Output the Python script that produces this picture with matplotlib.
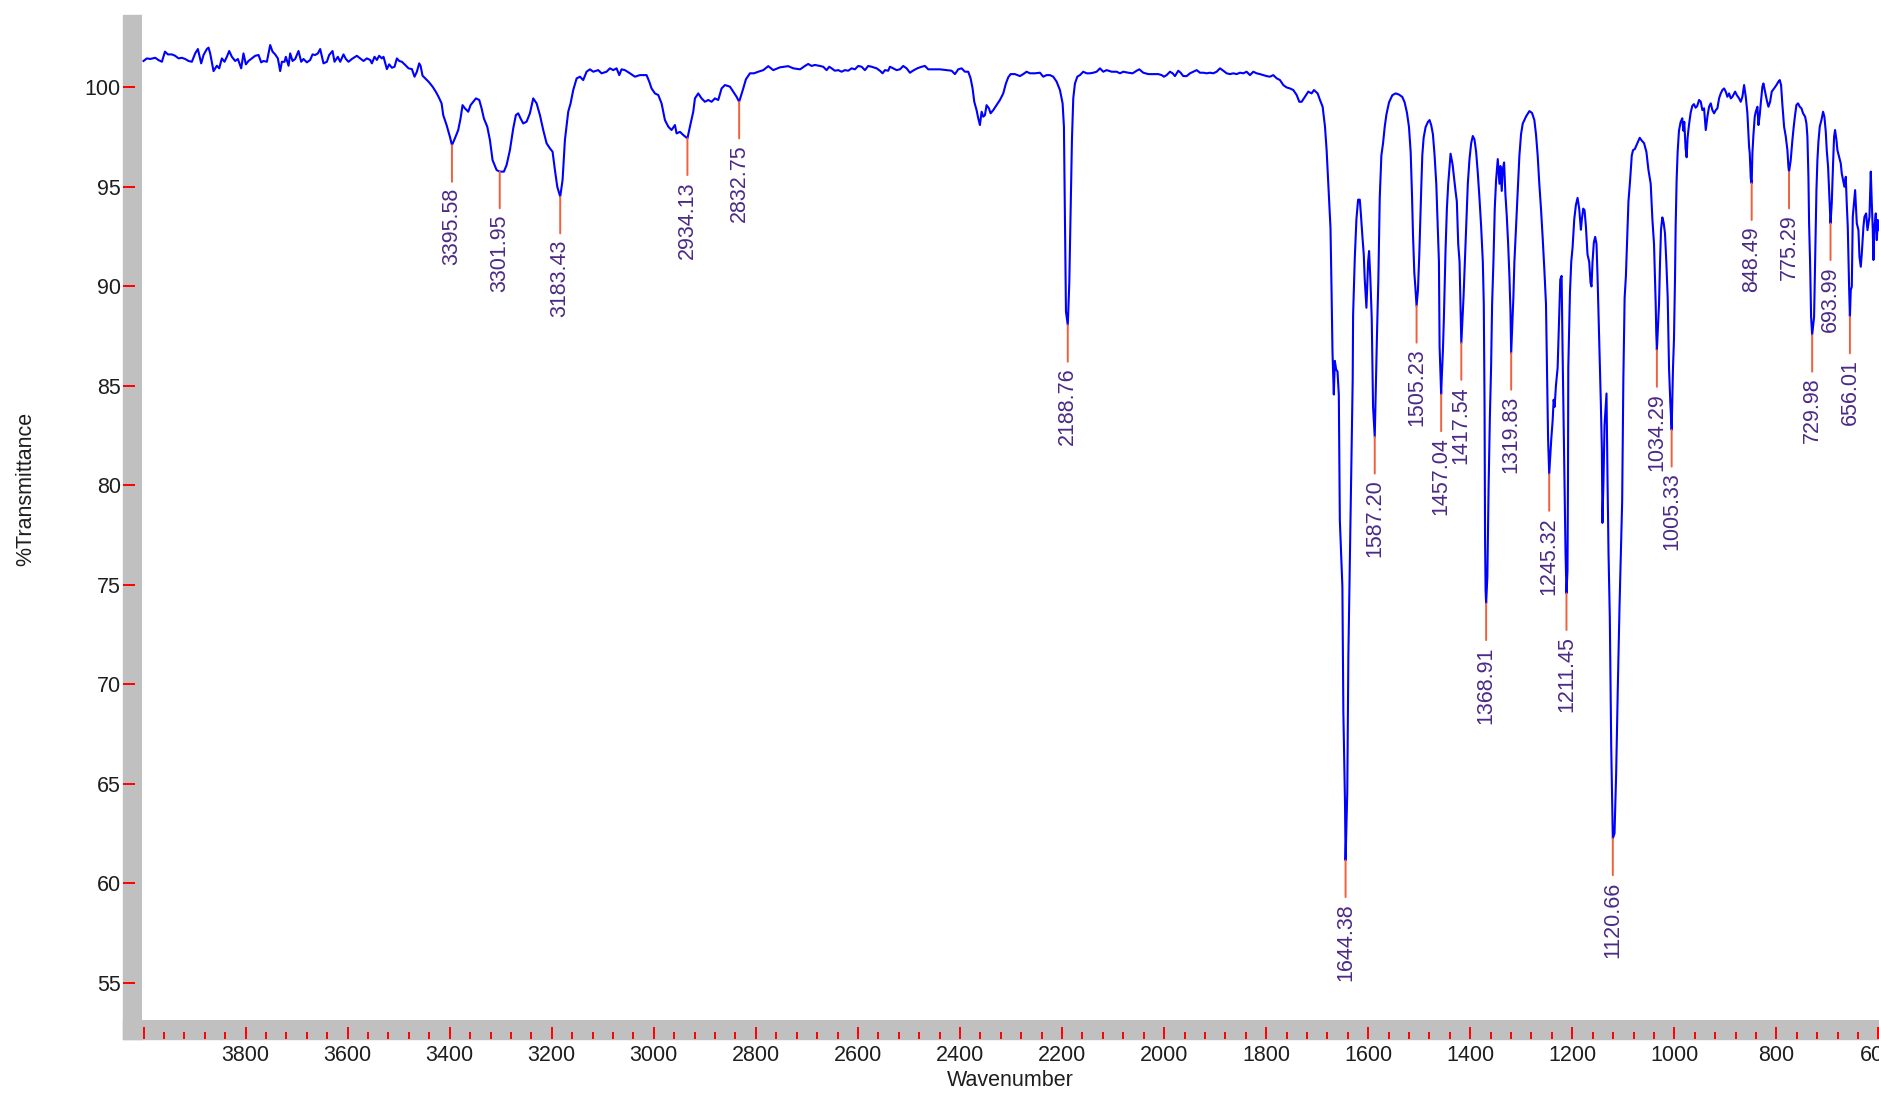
import matplotlib.pyplot as plt
from matplotlib.patches import Rectangle
from matplotlib.ticker import MultipleLocator, FuncFormatter

plt.rcParams['font.family'] = ['Liberation Sans', 'DejaVu Sans']

# IR spectrum (cm-1, %T)
wavenumber = [
    4000.0, 3993.5, 3987.0, 3977.0, 3971.0, 3964.0, 3958.0, 3952.3, 3944.5, 3938.0,
    3931.4, 3925.0, 3918.4, 3911.8, 3905.3, 3898.8, 3893.5, 3887.0, 3882.4, 3875.9,
    3872.6, 3869.4, 3862.8, 3856.3, 3851.7, 3846.5, 3841.3, 3836.7, 3832.1, 3826.9,
    3820.4, 3815.1, 3808.6, 3804.1, 3799.5, 3794.3, 3787.7, 3781.2, 3774.6, 3769.4,
    3764.8, 3758.3, 3751.8, 3747.2, 3742.0, 3736.8, 3732.2, 3728.9, 3723.7, 3721.1,
    3715.8, 3712.6, 3708.0, 3702.8, 3696.3, 3691.0, 3686.5, 3679.9, 3673.4, 3668.8,
    3663.6, 3658.4, 3653.8, 3647.3, 3640.7, 3636.2, 3629.6, 3625.7, 3619.2, 3614.6,
    3608.1, 3603.5, 3598.3, 3591.7, 3582.0, 3575.4, 3568.9, 3562.3, 3555.8, 3552.5,
    3547.3, 3542.7, 3538.2, 3532.9, 3529.7, 3523.1, 3518.6, 3513.3, 3508.1, 3503.5,
    3499.0, 3493.7, 3487.2, 3480.7, 3474.1, 3468.9, 3464.3, 3459.8, 3457.1, 3453.2,
    3448.0, 3441.5, 3433.6, 3427.1, 3421.9,
    3415.9, 3412.7, 3406.1, 3399.6, 3395.58, 3389.8, 3383.3, 3378.7, 3374.8, 3370.2,
    3363.7, 3359.1, 3353.9, 3348.6, 3342.1, 3337.5, 3333.0, 3326.4, 3321.2, 3316.0,
    3308.1, 3301.95, 3293.8, 3288.5, 3282.0, 3275.5, 3270.3, 3265.7, 3261.1, 3255.9,
    3249.3, 3242.8, 3236.3, 3229.7, 3223.2, 3216.7, 3210.1, 3203.6, 3198.4, 3193.8,
    3189.2, 3183.43, 3178.8, 3174.2, 3167.7, 3163.1, 3157.9, 3151.3, 3144.8, 3138.3,
    3131.8, 3125.2, 3118.7, 3108.9, 3102.4, 3092.6, 3086.0, 3079.5, 3073.0, 3067.7,
    3063.2, 3056.6, 3046.8, 3037.0, 3027.2, 3014.2, 3008.9, 3004.4, 2997.8, 2991.3,
    2984.8, 2978.2, 2971.7, 2965.2, 2958.6, 2955.4, 2948.8, 2942.3, 2934.13, 2929.2,
    2922.7, 2919.4, 2912.9, 2906.4, 2899.8, 2893.3, 2886.8, 2880.2, 2873.7, 2867.2,
    2860.6, 2850.8, 2844.3, 2837.8, 2832.75, 2824.7, 2819.5, 2811.6, 2803.8, 2795.3,
    2785.5, 2775.7, 2765.9, 2752.8, 2736.5, 2726.7, 2713.6,
    2710.4, 2703.9, 2697.4, 2690.8, 2684.3, 2674.5, 2668.0, 2661.4, 2656.2, 2651.6,
    2645.1, 2638.6, 2632.0, 2625.5, 2619.0, 2612.4, 2605.9, 2599.4, 2592.8, 2586.3,
    2579.8, 2573.2, 2563.4, 2556.9, 2551.7, 2547.1, 2540.6, 2537.3, 2530.8, 2524.2,
    2517.7, 2511.2, 2504.6, 2498.1, 2490.3, 2483.7, 2475.2, 2468.7, 2462.2, 2452.4,
    2439.3, 2426.2, 2416.4, 2409.9, 2403.4, 2396.8, 2390.3, 2383.8, 2379.2, 2375.3,
    2372.0, 2367.5, 2364.2, 2360.9, 2357.6, 2354.4, 2351.1, 2347.9, 2343.3, 2340.0,
    2334.8, 2328.3, 2321.7, 2315.2, 2310.0, 2305.4, 2300.8, 2292.3, 2282.5, 2276.0,
    2269.5, 2262.9, 2253.1, 2243.3, 2236.8, 2230.3,
    2223.7, 2217.2, 2210.6, 2204.1, 2198.9, 2196.3, 2194.3, 2192.3, 2188.76, 2185.8,
    2183.2, 2180.6, 2178.0, 2174.7, 2170.1, 2164.9, 2158.4, 2151.8, 2145.3, 2138.8,
    2132.2, 2125.7, 2119.2, 2112.6, 2102.8, 2093.0, 2086.5, 2080.0, 2070.2, 2061.7,
    2053.8, 2048.6, 2040.8, 2031.0, 2021.2, 2011.4, 2004.8, 2000.3, 1995.0, 1988.5,
    1983.3, 1978.7, 1972.2, 1967.6, 1962.4, 1955.8, 1949.3, 1942.8, 1936.2, 1929.7,
    1923.2, 1916.6, 1910.1, 1903.6, 1897.0, 1890.5, 1884.0, 1877.4, 1870.9, 1864.4,
    1857.9, 1851.3, 1844.8, 1838.3, 1831.7, 1825.2, 1818.7, 1812.1, 1805.6, 1799.1,
    1792.5, 1786.0, 1779.5, 1772.9, 1766.4, 1759.9, 1753.3, 1746.8, 1740.2, 1735.0,
    1730.4, 1723.9, 1717.4, 1710.9, 1706.3, 1699.1, 1694.5, 1689.3, 1684.7, 1681.5,
    1678.2,
    1673.9, 1671.9, 1670.0, 1667.4, 1665.4, 1662.8, 1660.2, 1657.6, 1655.6, 1650.6,
    1648.7, 1645.4, 1644.38, 1641.0, 1638.9, 1634.3, 1630.4, 1629.6, 1626.3, 1623.1,
    1619.8, 1616.5, 1614.6, 1611.3, 1608.7, 1606.8, 1604.8, 1603.5, 1600.2, 1598.3,
    1595.7, 1593.1, 1590.5, 1587.20, 1585.3, 1582.7, 1580.1, 1577.4, 1574.2, 1570.9,
    1567.7, 1564.4, 1559.2, 1552.7, 1546.2, 1539.6, 1533.1, 1528.6, 1524.0, 1520.1,
    1516.8, 1514.2, 1512.3, 1509.7, 1507.7, 1505.23, 1502.5, 1499.9, 1497.9, 1496.0,
    1494.0, 1491.4, 1487.5, 1482.9, 1479.7, 1476.4, 1473.2, 1469.9, 1466.6, 1463.4,
    1461.4, 1460.1, 1457.04, 1456.2, 1453.6, 1451.7, 1448.4, 1445.8, 1443.2, 1440.6,
    1438.6, 1436.7, 1434.7, 1432.8, 1428.9, 1426.3, 1423.6, 1421.0, 1419.1, 1417.54,
    1413.2, 1410.6, 1408.0, 1404.8, 1401.5, 1398.2, 1395.0, 1391.7, 1388.5, 1385.2,
    1382.0, 1378.7, 1375.4, 1373.5, 1372.0, 1371.0, 1370.0, 1368.91, 1366.5, 1364.0,
    1361.5, 1359.2, 1357.2, 1354.6, 1352.0, 1349.4, 1346.1, 1342.8, 1340.9, 1338.3,
    1336.3, 1333.7, 1331.1, 1328.5, 1325.9, 1323.3, 1321.2, 1319.83, 1315.5, 1313.5,
    1310.3, 1307.0, 1303.7, 1300.5, 1297.2, 1290.7, 1284.2, 1279.0, 1274.4, 1271.2,
    1267.9, 1264.7, 1261.4, 1258.2, 1254.9, 1251.6, 1249.7, 1247.5, 1246.5, 1245.32,
    1241.2, 1238.6, 1236.6, 1234.7, 1232.1, 1228.8, 1225.6, 1223.6, 1221.0, 1219.0,
    1215.5, 1213.3, 1211.45, 1209.5, 1208.5, 1207.9, 1204.7, 1202.1, 1199.5, 1196.2,
    1193.0, 1189.7, 1186.5, 1183.2, 1181.3, 1178.6, 1176.0, 1173.4, 1170.2, 1166.9,
    1164.3, 1162.4, 1160.4, 1157.8, 1155.2, 1152.6, 1150.6, 1147.4, 1144.1, 1142.1,
    1141.0, 1138.9, 1136.9, 1133.0, 1131.0, 1129.0, 1126.5, 1123.8, 1120.66, 1117.3,
    1114.1, 1110.8, 1107.5, 1102.3, 1100.0, 1097.5, 1095.0, 1092.5, 1090.0, 1087.0,
    1083.5, 1081.0, 1077.6, 1072.4, 1067.9, 1064.0, 1059.4, 1054.8, 1050.9, 1046.4,
    1043.1, 1039.9, 1036.6, 1035.5, 1034.29, 1030.1, 1028.1, 1026.2, 1023.6, 1021.0,
    1018.4, 1015.8, 1013.1, 1010.5, 1007.9, 1005.33, 1002.7, 1000.8, 998.8, 997.5,
    995.6, 993.6, 991.0, 987.7, 984.5, 982.5, 980.6, 978.0, 976.0, 974.1,
    971.5, 968.2, 964.9, 961.7, 958.4, 955.2,
    951.6, 948.3, 945.1, 941.8, 938.5, 935.3, 932.0, 928.7, 925.5, 922.2,
    918.9, 915.7, 912.4, 909.1, 905.9, 902.6, 899.3, 896.1, 892.8, 889.5,
    886.3, 881.0, 877.8, 873.2, 869.9, 866.7, 863.4, 860.1, 856.9, 853.6,
    852.3, 850.3, 848.49, 847.1, 845.1, 842.5, 840.5, 837.3, 835.3, 832.7,
    830.7, 827.5, 825.5, 822.2, 819.0, 815.7, 812.4, 809.2, 804.6, 800.0,
    796.1, 793.5, 790.9, 788.3, 785.0, 781.7, 778.5, 776.5, 775.29, 772.0,
    768.7, 766.1, 763.5, 760.8, 757.6, 754.3, 751.0, 747.8, 743.8, 741.2,
    739.3, 737.3, 736.0, 734.0, 732.1, 729.98, 726.2, 724.2, 723.0, 721.6,
    719.7, 717.7, 715.1, 711.8, 708.6, 706.0, 703.3, 701.4, 698.8, 696.2,
    693.99, 691.6, 689.0, 687.0, 685.1, 682.4, 680.5, 677.2, 673.9, 672.0,
    669.4, 666.8, 664.1, 662.2, 660.2, 657.6, 656.01, 654.3, 652.3, 650.4,
    645.8, 642.5, 639.3, 637.3, 634.7, 632.7, 629.5, 627.5, 624.2, 621.6,
    617.7, 615.1, 613.1, 611.2, 609.9, 607.9, 605.3, 603.3, 601.4, 598.8,
]
transmittance = [
    101.31, 101.44, 101.41, 101.47, 101.36, 101.27, 101.78, 101.64, 101.64, 101.57,
    101.44, 101.47, 101.41, 101.31, 101.27, 101.69, 101.91, 101.19, 101.61, 101.91,
    101.98, 101.69, 100.80, 101.07, 100.94, 101.44, 101.27, 101.52, 101.81, 101.52,
    101.31, 101.41, 100.94, 101.69, 101.14, 101.31, 101.44, 101.57, 101.61, 101.24,
    101.31, 101.27, 102.11, 101.78, 101.64, 101.44, 100.80, 101.27, 101.27, 101.52,
    101.07, 101.69, 101.31, 101.41, 101.81, 101.27, 101.41, 101.24, 101.36, 101.64,
    101.61, 101.69, 101.91, 101.19, 101.27, 101.61, 101.81, 101.27, 101.52, 101.27,
    101.64, 101.41, 101.27, 101.41, 101.57, 101.44, 101.31, 101.44, 101.36, 101.19,
    101.52, 101.36, 101.57, 101.44, 101.52, 100.90, 101.14, 100.97, 101.02, 101.44,
    101.31, 101.27, 101.11, 100.94, 100.90, 100.52, 100.77, 101.19, 101.07, 100.57,
    100.44, 100.27, 100.02, 99.76, 99.51,
    99.18, 98.59, 98.09, 97.50, 97.08, 97.42, 97.84, 98.43, 99.09, 98.93,
    98.76, 99.09, 99.26, 99.43, 99.35, 98.93, 98.42, 98.01, 97.34, 96.33,
    95.83, 95.75, 95.75, 96.08, 96.83, 97.92, 98.59, 98.68, 98.42, 98.17,
    98.26, 98.68, 99.43, 99.18, 98.59, 97.84, 97.17, 96.92, 96.75, 95.83,
    94.99, 94.49, 95.33, 97.34, 98.76, 99.18, 99.85, 100.43, 100.52, 100.35,
    100.77, 100.89, 100.77, 100.85, 100.69, 100.77, 100.94, 100.85, 100.94, 100.60,
    100.89, 100.85, 100.69, 100.52, 100.60, 100.60, 100.27, 99.93, 99.68, 99.60,
    99.18, 98.34, 98.01, 97.84, 98.09, 97.67, 97.75, 97.59, 97.42, 98.01,
    98.76, 99.43, 99.68, 99.43, 99.26, 99.35, 99.26, 99.43, 99.35, 99.93,
    100.10, 100.02, 99.76, 99.51, 99.26, 99.93, 100.39, 100.69, 100.69, 100.77,
    100.85, 101.05, 100.85, 100.99, 101.05, 100.94, 100.89,
    100.94, 101.06, 101.16, 101.06, 101.11, 101.06, 101.02, 100.85, 101.02, 100.94,
    100.82, 100.85, 100.77, 100.85, 100.82, 100.94, 100.89, 101.06, 101.02, 100.85,
    101.06, 101.02, 100.94, 100.82, 100.69, 100.85, 100.82, 101.02, 100.94, 100.85,
    100.89, 101.06, 100.94, 100.72, 100.85, 100.94, 101.02, 101.06, 100.89, 100.89,
    100.89, 100.85, 100.82, 100.65, 100.89, 100.94, 100.77, 100.77, 100.44, 99.93,
    99.26, 98.84, 98.43, 98.09, 98.76, 98.51, 98.59, 99.09, 98.93, 98.68,
    98.84, 99.09, 99.35, 99.68, 100.18, 100.49, 100.65, 100.65, 100.55, 100.65,
    100.77, 100.69, 100.69, 100.72, 100.52, 100.60,
    100.60, 100.52, 100.27, 99.85, 99.18, 98.01, 93.40, 88.71, 88.04, 90.13,
    93.74, 97.34, 99.43, 100.18, 100.52, 100.60, 100.77, 100.69, 100.69, 100.72,
    100.77, 100.94, 100.77, 100.85, 100.77, 100.77, 100.69, 100.77, 100.72, 100.69,
    100.82, 100.89, 100.72, 100.65, 100.65, 100.65, 100.60, 100.52, 100.60, 100.77,
    100.69, 100.55, 100.82, 100.72, 100.55, 100.55, 100.69, 100.77, 100.85, 100.72,
    100.72, 100.69, 100.72, 100.69, 100.77, 100.94, 100.82, 100.69, 100.65, 100.69,
    100.65, 100.72, 100.69, 100.77, 100.60, 100.77, 100.69, 100.65, 100.60, 100.55,
    100.52, 100.60, 100.44, 100.35, 100.10, 99.98, 99.93, 99.85, 99.60, 99.26,
    99.26, 99.51, 99.77, 99.68, 99.85, 99.68, 99.35, 99.01, 98.01, 96.83,
    95.16,
    92.91, 89.89, 86.69, 84.55, 86.24, 85.80, 85.71, 84.55, 78.23, 74.90,
    68.60, 63.90, 61.14, 64.60, 71.40, 78.90, 85.30, 88.55, 91.40, 93.36,
    94.34, 94.34, 93.71, 92.47, 91.58, 90.33, 89.44, 88.91, 91.22, 91.76,
    90.33, 88.38, 83.93, 82.42, 84.64, 87.67, 90.33, 94.43, 96.56, 97.18,
    97.99, 98.61, 99.23, 99.59, 99.68, 99.62, 99.50, 99.23, 98.70, 97.99,
    96.74, 94.60, 92.65, 90.69, 89.98, 89.00, 89.80, 91.58, 93.36, 94.96,
    96.56, 97.45, 97.99, 98.25, 98.34, 98.07, 97.63, 96.56, 95.14, 92.65,
    91.22, 86.95, 84.55, 85.17, 86.78, 88.38, 91.85, 93.89, 95.14, 96.03,
    96.65, 96.38, 96.12, 95.67, 94.78, 94.25, 92.11, 91.22, 89.09, 87.13,
    89.44, 91.22, 93.00, 95.14, 96.38, 97.18, 97.54, 97.36, 96.74, 95.67,
    94.43, 93.00, 91.22, 89.09, 84.00, 77.30, 74.75, 74.05, 75.40, 80.00,
    83.50, 85.90, 89.09, 91.22, 93.89, 95.32, 96.38, 95.14, 96.03, 94.78,
    95.85, 96.21, 94.60, 93.54, 92.20, 90.51, 88.73, 86.63, 89.44, 91.22,
    93.00, 94.78, 96.56, 97.63, 98.16, 98.52, 98.79, 98.70, 98.34, 97.63,
    96.56, 95.14, 93.89, 92.47, 90.87, 89.09, 85.89, 82.33, 81.44, 80.55,
    82.33, 83.22, 84.29, 83.93, 85.00, 85.89, 88.73, 90.33, 90.51, 86.60,
    80.50, 76.60, 74.56, 75.70, 80.25, 85.89, 89.62, 91.22, 91.94, 93.36,
    94.07, 94.43, 93.89, 92.83, 93.36, 93.89, 93.80, 93.00, 91.58, 91.22,
    90.16, 89.98, 91.22, 92.20, 92.47, 92.11, 90.51, 87.31, 84.11, 81.79,
    78.10, 80.25, 83.00, 84.60, 80.25, 76.50, 73.30, 66.90, 62.24, 62.50,
    65.50, 69.90, 73.90, 79.20, 85.30, 89.40, 90.50, 92.30, 94.25, 95.23,
    96.56, 96.83, 96.88, 97.18, 97.45, 97.31, 97.18, 96.74, 95.85, 95.14,
    93.36, 92.11, 89.09, 87.67, 86.78, 89.09, 91.22, 92.83, 93.45, 93.18,
    92.65, 91.22, 89.44, 85.89, 84.11, 82.77, 85.89, 87.31, 90.33, 93.00,
    95.32, 96.74, 97.81, 98.25, 98.43, 97.81, 98.25, 96.92, 96.47, 97.45,
    98.07, 98.70, 99.05, 99.14, 98.96, 99.05,
    99.35, 99.26, 98.84, 98.93, 97.84, 98.51, 99.01, 99.18, 98.84, 98.68,
    98.84, 98.93, 99.43, 99.68, 99.85, 99.93, 99.77, 99.51, 99.68, 99.43,
    99.51, 99.77, 99.60, 99.43, 99.26, 99.51, 100.10, 99.51, 98.68, 97.00,
    96.67, 95.41, 95.16, 96.67, 97.59, 98.51, 98.76, 99.01, 98.09, 98.59,
    99.18, 100.02, 100.18, 99.77, 99.35, 99.01, 99.26, 99.77, 99.93, 100.10,
    100.27, 100.35, 100.10, 99.10, 98.01, 97.51, 96.83, 96.00, 95.74, 96.33,
    97.34, 98.01, 98.59, 99.10, 99.18, 99.01, 98.93, 98.68, 98.51, 98.17,
    97.51, 95.49, 93.15, 91.14, 88.46, 87.54, 88.46, 91.14, 92.65, 94.82,
    96.33, 97.25, 98.01, 98.34, 98.76, 98.51, 97.75, 96.83, 96.00, 94.49,
    93.15, 94.15, 96.16, 97.51, 97.84, 97.34, 96.83, 96.50, 96.16, 95.66,
    95.33, 94.99, 95.49, 94.15, 92.98, 89.97, 88.46, 89.80, 89.97, 93.48,
    94.82, 93.15, 92.81, 91.47, 90.97, 91.64, 92.98, 93.48, 93.65, 92.81,
    93.48, 95.75, 94.15, 92.81, 91.31, 92.98, 93.65, 92.31, 93.32, 92.81,
]
assert len(wavenumber) == len(transmittance)

# picked peaks (position, %T at the tip)
peak_wn = [3395.58, 3301.95, 3183.43, 2934.13, 2832.75, 2188.76, 1644.38, 1587.20,
           1505.23, 1457.04, 1417.54, 1368.91, 1319.83, 1245.32, 1211.45, 1120.66,
           1034.29, 1005.33, 848.49, 775.29, 729.98, 693.99, 656.01]
peak_t = [97.08, 95.75, 94.49, 97.42, 99.26, 88.04, 61.14, 82.42,
          89.00, 84.55, 87.13, 74.05, 86.63, 80.55, 74.56, 62.24,
          86.78, 82.77, 95.16, 95.74, 87.54, 93.15, 88.46]

W, H = 1879, 1093
fig = plt.figure(figsize=(W / 100, H / 100), dpi=100)
ax = fig.add_axes([142 / W, 1 - 1020 / H, 1737 / W, 1005 / H])

# grey frame on the left and bottom, as in the instrument software
gray = '#c0c0c0'
fig.add_artist(Rectangle((123 / W, 1 - 1039 / H), 19 / W, 1024 / H,
                         transform=fig.transFigure, color=gray, zorder=-1))
fig.add_artist(Rectangle((123 / W, 1 - 1039 / H), (W - 123) / W, 19 / H,
                         transform=fig.transFigure, color=gray, zorder=-1))

ax.plot(wavenumber, transmittance, color='#0000ff', lw=1.5)

for w, t in zip(peak_wn, peak_t):
    ax.annotate('', xy=(w, t), xytext=(0, -26.4), textcoords='offset points',
                arrowprops=dict(arrowstyle='-', color='#f0603c', lw=1.4,
                                shrinkA=0, shrinkB=0))
    ax.annotate(f'{w:.2f}', xy=(w, t), xytext=(0, -30.8), textcoords='offset points',
                rotation=90, ha='center', va='top', fontsize=15.5, color='#4b2a86')

ax.set_xlim(4003, 599)
ax.set_ylim(53.12, 103.62)

for s in ['top', 'right']:
    ax.spines[s].set_visible(False)
for s in ['left', 'bottom']:
    ax.spines[s].set_position(('outward', 13.7))
    ax.spines[s].set_color('none')

ax.xaxis.set_major_locator(MultipleLocator(200))
ax.xaxis.set_minor_locator(MultipleLocator(40))
ax.xaxis.set_major_formatter(FuncFormatter(lambda v, p: '' if v > 3999 else f'{v:.0f}'))
ax.yaxis.set_major_locator(MultipleLocator(5))

ax.tick_params(axis='both', which='both', direction='in', color='red',
               labelcolor='#1e1e1e', labelsize=15.5)
ax.tick_params(axis='x', which='major', length=8.6, width=1.4, pad=4.5)
ax.tick_params(axis='x', which='minor', length=5, width=1.4)
ax.tick_params(axis='y', which='major', length=8.6, width=1.4, pad=1.5)

fig.text(26 / W, 1 - 489 / H, '%Transmittance', rotation=90, ha='center',
         va='center', fontsize=15.5, color='#1e1e1e')
fig.text(1010 / W, 1 - 1080 / H, 'Wavenumber', ha='center', va='center',
         fontsize=15.5, color='#1e1e1e')

fig.savefig('out.png', dpi=100)
